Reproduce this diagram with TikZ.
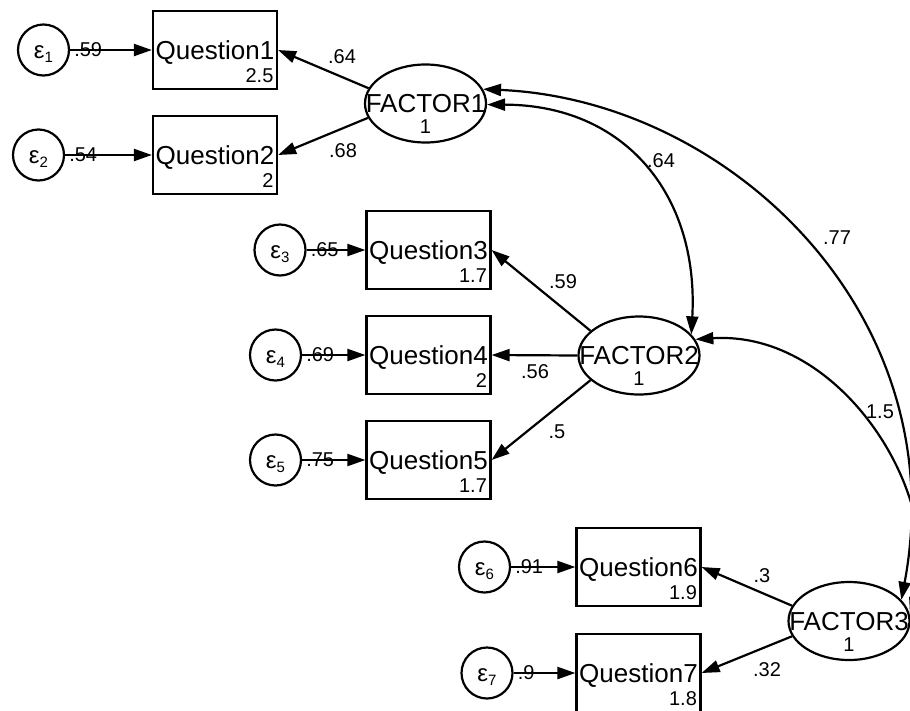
\documentclass[tikz,border=0pt]{standalone}
\usepackage{fontspec}
\setmainfont{Liberation Sans}
\usetikzlibrary{shapes.geometric,arrows.meta}
\begin{document}
\begin{tikzpicture}[x=1pt,y=-1pt,
  >={Triangle[length=18pt,width=12pt]},
  lw/.style={line width=2.2pt},
  obs/.style={draw,lw,rectangle,minimum width=124pt,minimum height=78pt,inner sep=0pt},
  lat/.style={draw,lw,ellipse,minimum width=121pt,minimum height=78pt,inner sep=0pt},
  err/.style={draw,lw,circle,minimum size=51pt,inner sep=0pt},
  load/.style={lw,->},
  cov/.style={lw,<->},
  qtxt/.style={font=\fontsize{26}{26}\selectfont,inner sep=0pt,anchor=base},
  vtxt/.style={font=\fontsize{20}{20}\selectfont,inner sep=0pt},
  ltxt/.style={font=\fontsize{20}{20}\selectfont,inner sep=0pt},
  etxt/.style={font=\fontsize{24}{24}\selectfont,inner sep=0pt,anchor=base},
]
\useasboundingbox (0,0) rectangle (910,710);
\clip (0,0) rectangle (910,710);

% observed variables
\node[obs] (Q1) at (215,50) {};
\node[obs] (Q2) at (215,155) {};
\node[obs] (Q3) at (428.5,250) {};
\node[obs] (Q4) at (428.5,355) {};
\node[obs] (Q5) at (428.5,460) {};
\node[obs] (Q6) at (638.5,567) {};
\node[obs] (Q7) at (638.5,673) {};

\foreach \q/\t/\v in {Q1/Question1/2.5,Q2/Question2/2,Q3/Question3/1.7,Q4/Question4/2,Q5/Question5/1.7,Q6/Question6/1.9,Q7/Question7/1.8}{
  \node[qtxt] (\q t) at ([yshift=-9pt]\q.center) {\t};
  \node[vtxt,anchor=base east] (\q v) at ([xshift=-4.5pt,yshift=8pt]\q.south east) {\v};
}

% latent variables
\node[lat] (F1) at (425.5,103.5) {};
\node[lat] (F2) at (639,355.5) {};
\node[lat] (F3) at (849,621) {};
\foreach \f/\t in {F1/FACTOR1,F2/FACTOR2,F3/FACTOR3}{
  \node[qtxt] (\f t) at ([yshift=-9pt]\f.center) {\t};
  \node[vtxt,anchor=base] (\f v) at ([yshift=-30pt]\f.center) {1};
}

% error terms
\node[err] (e1) at (43.5,50) {};
\node[err] (e2) at (38.5,155) {};
\node[err] (e3) at (280,250) {};
\node[err] (e4) at (275.5,355) {};
\node[err] (e5) at (275.5,460) {};
\node[err] (e6) at (484.5,567) {};
\node[err] (e7) at (487,673) {};
\foreach \e/\n/\r/\Q in {e1/1/.59/Q1,e2/2/.54/Q2,e3/3/.65/Q3,e4/4/.69/Q4,e5/5/.75/Q5,e6/6/.91/Q6,e7/7/.9/Q7}{
  \node[etxt] (\e t) at ([yshift=-8.5pt]\e.center) {ε\raisebox{-3.5pt}{\fontsize{15}{15}\selectfont\n}};
  \draw[load] (\e.east) -- (\Q.west);
  \node[ltxt,anchor=west] (\e r) at ([xshift=4pt]\e.east) {\r};
}

% loadings
\draw[load] (F1.165) -- (Q1.east);
\draw[load] (F1.194) -- (Q2.east);
\draw[load] (F2.153) -- (Q3.east);
\draw[load] (F2.west) -- (Q4.east);
\draw[load] (F2.207) -- (Q5.east);
\draw[load] (F3.165) -- (Q6.east);
\draw[load] (F3.195) -- (Q7.east);

\node[ltxt] (l1) at (342,57) {.64};
\node[ltxt] (l2) at (343,151) {.68};
\node[ltxt] (l3) at (563,282) {.59};
\node[ltxt] (l4) at (535,372) {.56};
\node[ltxt] (l5) at (557,432) {.5};
\node[ltxt] (l6) at (762,576) {.3};
\node[ltxt] (l7) at (767,670) {.32};

% covariances
\draw[cov] (F1.14) .. controls (730,100) and (955,315) .. (F3.22);
\draw[cov] (F1.-1) .. controls (625,105) and (699,195) .. (F2.22);
\draw[cov] (F2.16) .. controls (842,330) and (945,497) .. (F3.5);

\node[ltxt] (c1) at (837,238) {.77};
\node[ltxt] (c2) at (661,161) {.64};
\node[ltxt] (c3) at (880,412) {1.5};
\end{tikzpicture}
\end{document}
